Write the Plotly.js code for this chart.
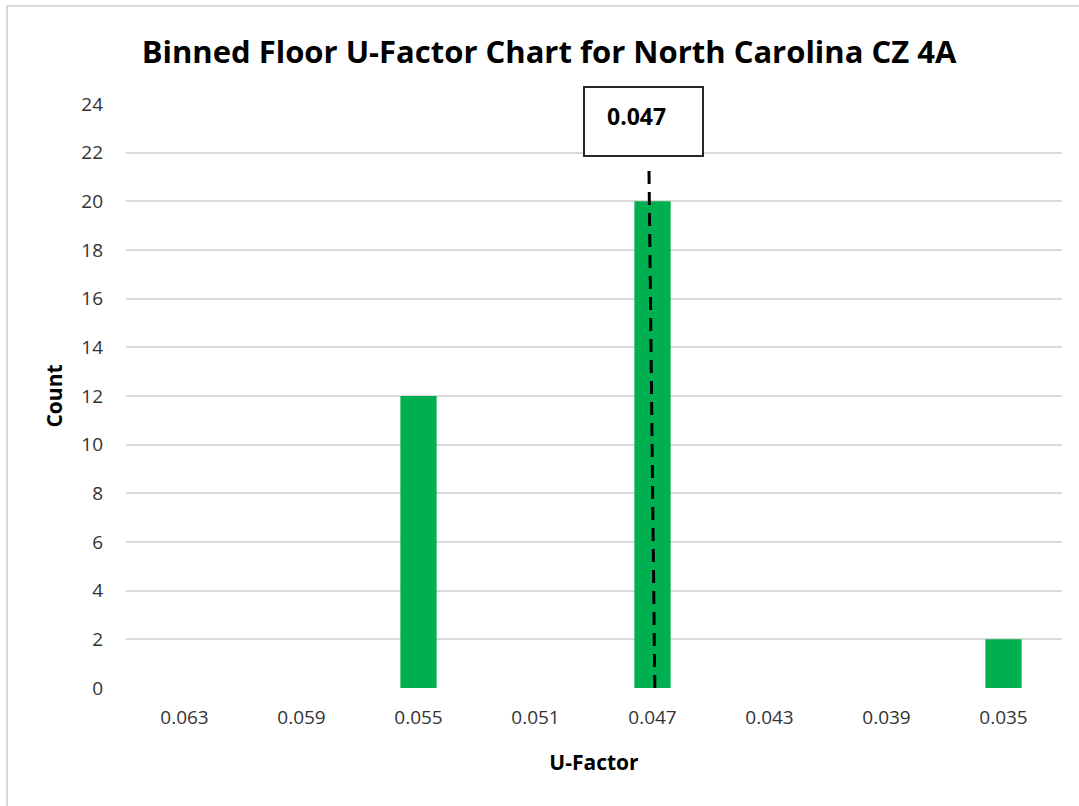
<!DOCTYPE html>
<html>
<head>
<meta charset="utf-8">
<script src="https://cdn.plot.ly/plotly-3.0.1.min.js"></script>
<style>
  html, body { margin: 0; padding: 0; background: #fff; }
  #wrap { position: relative; width: 1079px; height: 806px; }
  #chart { position: absolute; left: 0; top: 0; width: 1079px; height: 806px; }
  #frame { position: absolute; left: 6px; top: 5px; width: 1073px; height: 801px;
           border-left: 2px solid #d9d9d9; border-top: 2px solid #d9d9d9; pointer-events: none; }
</style>
</head>
<body>
<div id="wrap">
  <div id="chart"></div>
  <div id="frame"></div>
</div>
<script>
// Data
const categories = ["0.063", "0.059", "0.055", "0.051", "0.047", "0.043", "0.039", "0.035"];
const counts = [0, 0, 12, 0, 20, 0, 0, 2];
const yTicks = [0, 2, 4, 6, 8, 10, 12, 14, 16, 18, 20, 22, 24];
const markerLabel = "0.047";
const markerTop = 21.3;

const idx = categories.indexOf(markerLabel);

const trace = {
  type: "bar",
  x: categories,
  y: counts,
  marker: { color: "#00b050" },
  width: 0.31,
  hoverinfo: "x+y"
};

const fontFam = "'Open Sans', 'Liberation Sans', sans-serif";

const layout = {
  width: 1079,
  height: 806,
  margin: { l: 126, r: 17, t: 104, b: 118 },
  paper_bgcolor: "#ffffff",
  plot_bgcolor: "#ffffff",
  showlegend: false,
  title: {
    text: "<b>Binned Floor U-Factor Chart for North Carolina CZ 4A</b>",
    font: { family: fontFam, size: 31, color: "#000000" },
    x: 549 / 1079,
    xanchor: "center",
    xref: "container",
    y: 1 - 52 / 806,
    yanchor: "middle",
    yref: "container"
  },
  xaxis: {
    type: "category",
    categoryorder: "array",
    categoryarray: categories,
    showgrid: false,
    zeroline: false,
    showline: false,
    ticks: "",
    tickfont: { family: fontFam, size: 19, color: "#333333" },
    ticklabelstandoff: 16,
    title: { text: "<b>U-Factor</b>", font: { family: fontFam, size: 21, color: "#000000" }, standoff: 26 }
  },
  yaxis: {
    range: [0, 24],
    tickvals: yTicks,
    ticktext: yTicks.map(String),
    showgrid: true,
    gridcolor: "#d9d9d9",
    gridwidth: 2,
    zeroline: false,
    showline: false,
    ticks: "",
    tickfont: { family: fontFam, size: 19, color: "#333333" },
    ticklabelstandoff: 22,
    title: { text: "<b>Count</b>", font: { family: fontFam, size: 21, color: "#000000" }, standoff: 12 }
  },
  shapes: [
    {
      type: "line",
      xref: "x", yref: "y",
      x0: idx + 0.02, x1: idx - 0.03,
      y0: 0, y1: markerTop,
      line: { color: "#000000", width: 3, dash: "13px,8px" },
      layer: "above"
    },
    {
      type: "rect",
      xref: "paper", yref: "paper",
      x0: (584 - 126) / 936, x1: (703 - 126) / 936,
      y0: (688 - 156) / 584, y1: (688 - 87) / 584,
      line: { color: "#262626", width: 2 },
      fillcolor: "#ffffff",
      layer: "above"
    }
  ],
  annotations: [
    {
      xref: "paper", yref: "paper",
      x: (636 - 126) / 936, y: (688 - 116) / 584,
      xanchor: "center", yanchor: "middle",
      text: "<b>" + markerLabel + "</b>",
      showarrow: false,
      font: { family: fontFam, size: 23, color: "#000000" }
    }
  ]
};

Plotly.newPlot("chart", [trace], layout, { displayModeBar: false, staticPlot: true });
</script>
</body>
</html>
